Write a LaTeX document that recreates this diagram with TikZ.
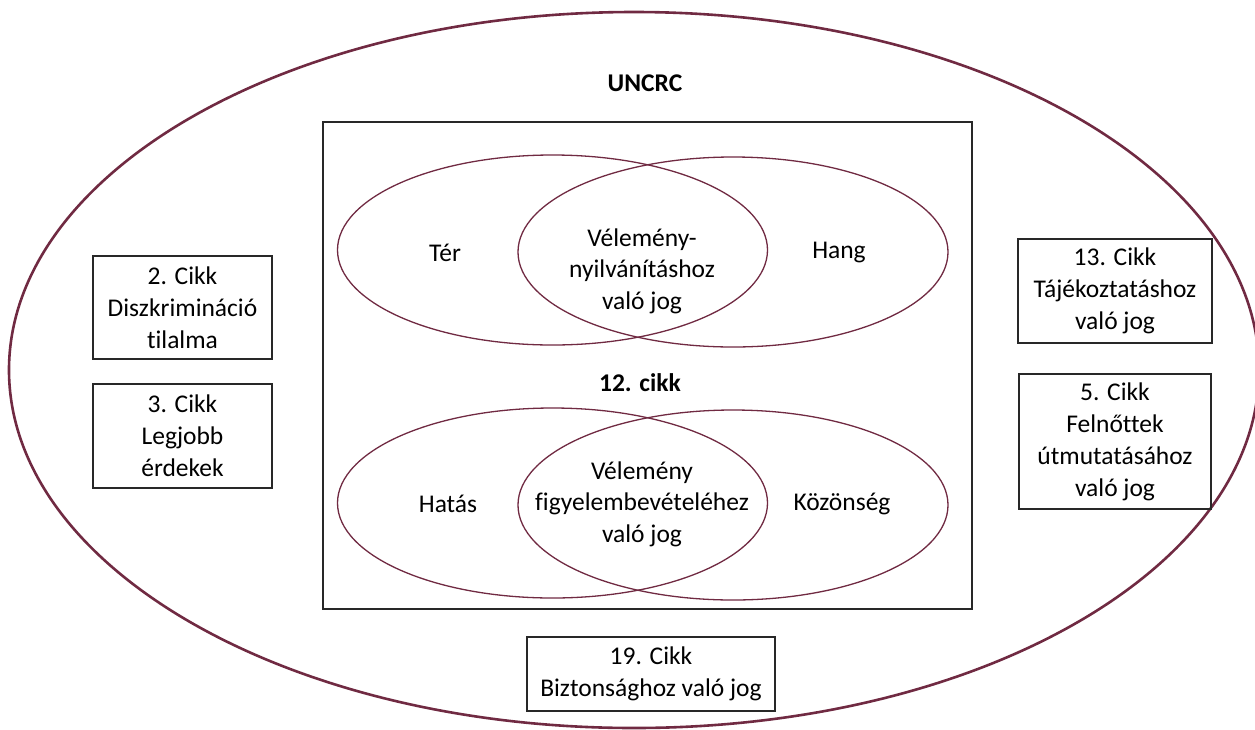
\documentclass[tikz,border=0pt]{standalone}
\usepackage{fontspec}
\setmainfont{Carlito}[Ligatures=NoCommon]
\usetikzlibrary{shapes.geometric}
\definecolor{venncol}{RGB}{112,42,66}
\definecolor{boxcol}{RGB}{40,40,40}
\tikzset{
  txt/.style={font=\fontsize{25.5}{31.5}\selectfont, align=center, inner sep=0pt, text=black},
  btxt/.style={txt, font=\fontsize{25.5}{31.5}\selectfont\bfseries},
  abox/.style={draw=boxcol, line width=1.1pt, inner sep=0pt, align=center,
    font=\fontsize{25.5}{32}\selectfont},
  venn/.style={draw=venncol, line width=1.3pt, ellipse, inner sep=0pt,
    minimum width=430pt, minimum height=190pt},
  outer/.style={draw=venncol, line width=2.6pt}
}
\begin{document}
\begin{tikzpicture}[x=1pt,y=-1pt]
\useasboundingbox (0,0) rectangle (1255,729);
% outer ellipse
\coordinate (oc) at (634,370);
\draw[outer] (oc) ellipse [x radius=625pt, y radius=358pt];
\node[btxt] (uncrc) at (645,83) {UNCRC};
% central frame
\node[draw=boxcol, line width=1.1pt, minimum width=649pt, minimum height=487pt, inner sep=0pt] (frame) at (647.5,365.5) {};
% top Venn
\node[venn] (ter) at (552.5,250) {};
\node[venn] (hang) at (733,252) {};
\node[txt] (tert) at (445,253) {Tér};
\node[txt] (hangt) at (839,253) {Hang};
\node[txt] (vel1) at (642,271) {Vélemény-\\nyilvánításhoz\\való jog};
\node[btxt] (cikk12) at (640,383) {12. cikk};
% bottom Venn
\node[venn] (hatas) at (552.5,503) {};
\node[venn] (kozon) at (733,505) {};
\node[txt] (hatast) at (448,504) {Hatás};
\node[txt] (kozont) at (842,504) {Közönség};
\node[txt] (vel2) at (642,504) {Vélemény\\figyelembevételéhez\\való jog};
% side boxes
\node[abox, minimum width=179pt, minimum height=103pt] (c2) at (182.5,307.5) {2. Cikk\\Diszkrimináció\\tilalma};
\node[abox, minimum width=179pt, minimum height=104pt] (c3) at (182.5,436) {3. Cikk\\Legjobb\\érdekek};
\node[abox, minimum width=194pt, minimum height=104pt] (c13) at (1115,291) {13. Cikk\\Tájékoztatáshoz\\való jog};
\node[abox, minimum width=192pt, minimum height=135pt] (c5) at (1115,441.5) {5. Cikk\\Felnőttek\\útmutatásához\\való jog};
\node[abox, minimum width=248pt, minimum height=74pt] (c19) at (651,674) {19. Cikk\\Biztonsághoz való jog};
\end{tikzpicture}
\end{document}
